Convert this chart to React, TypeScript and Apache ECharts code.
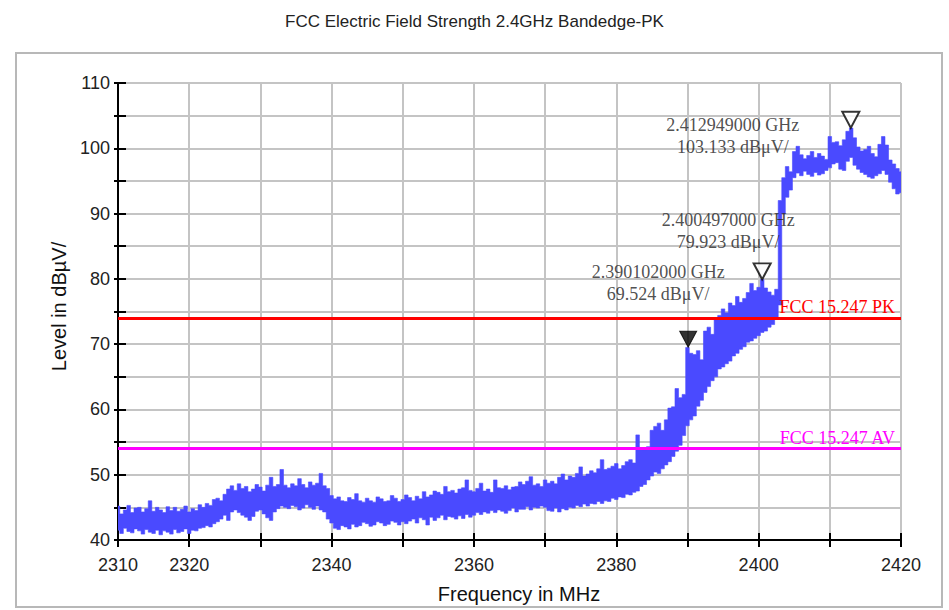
import React, { useEffect, useRef } from "react";
import * as echarts from "echarts";

const TITLE = "FCC Electric Field Strength 2.4GHz Bandedge-PK";
const X_NAME = "Frequency in MHz";
const Y_NAME = "Level in dBµV/";

const X_TICK_LABELS = [2310, 2320, 2340, 2360, 2380, 2400, 2420];
const Y_TICK_LABELS = [40, 50, 60, 70, 80, 90, 100, 110];

const FREQ_START = 2310;
const FREQ_STEP = 0.5;

// Upper edge of the trace, every 0.5 MHz from 2310 to 2420
const TRACE_HI = [
  45.2, 44.0, 44.6, 45.3, 44.2, 44.9, 45.0, 44.3, 44.8, 46.0,
  44.4, 45.0, 44.6, 44.2, 45.1, 44.5, 45.0, 44.4, 44.7, 45.2,
  44.3, 44.8, 44.5, 45.4, 45.0, 45.6, 45.3, 46.2, 46.4, 46.0,
  47.0, 47.8, 48.3, 47.6, 48.6, 47.9, 48.2, 47.4, 47.8, 48.5,
  48.1, 47.5, 48.4, 49.6, 48.2, 48.5, 50.8, 48.4, 48.0, 48.6,
  48.3, 49.4, 48.5, 48.0, 48.9, 48.4, 48.7, 50.2, 48.3, 47.9,
  46.8, 46.3, 46.6, 46.0, 45.9, 46.5, 46.2, 47.1, 46.0, 45.8,
  46.4, 46.0, 45.8, 46.6, 46.3, 45.9, 46.0, 46.8, 46.4, 45.9,
  46.2, 46.9, 46.5, 46.0, 46.7, 46.3, 47.4, 46.6, 46.9, 47.5,
  47.3, 47.0, 48.2, 47.4, 47.6, 47.2, 47.8, 48.0, 49.2, 47.6,
  47.4, 47.9, 48.7, 47.5, 47.8, 47.3, 49.2, 48.0, 47.9, 48.3,
  47.7, 48.1, 48.2, 48.9, 48.5, 49.0, 49.7, 48.4, 48.6, 48.2,
  49.2, 48.7, 49.0, 48.6, 49.6, 50.1, 49.2, 49.8, 49.6, 50.2,
  51.2, 49.8, 50.1, 50.6, 50.3, 50.9, 52.3, 50.8, 51.0, 51.3,
  51.7, 50.9, 51.4, 52.0, 52.3, 51.8, 56.1, 54.0, 53.8, 54.3,
  56.8, 57.4, 57.9, 56.8, 58.4, 60.2, 60.4, 63.2, 61.8, 62.3,
  69.5, 68.6, 68.4, 69.0, 67.6, 72.0, 72.6, 71.5, 73.7, 74.4,
  75.4, 74.8, 76.3, 75.9, 77.3, 76.4, 77.0, 77.9, 79.3, 78.2,
  78.7, 79.9, 78.6, 78.0, 77.5, 78.4, 92.0, 95.5, 97.2, 96.4,
  99.5, 100.3, 99.0, 98.4, 98.9, 99.5, 98.6, 99.2, 98.8, 98.3,
  101.8, 100.9, 101.0, 100.4, 101.3, 102.6, 103.1, 101.6, 100.2, 99.6,
  99.8, 100.3, 99.2, 98.7, 100.6, 101.8, 100.5, 98.2, 97.6, 96.9,
  96.4,
];

// Lower edge of the trace, same frequencies
const TRACE_LO = [
  41.5, 41.0, 41.8, 41.3, 41.1, 41.7, 41.4, 40.9, 41.6, 41.2,
  41.0, 41.5, 40.8, 41.4, 41.2, 40.9, 41.6, 41.1, 41.3, 41.7,
  41.0, 41.5, 41.4, 41.8, 41.9, 42.2, 42.0, 42.5, 42.8, 43.2,
  43.8, 43.0, 44.3, 44.6, 44.2, 43.8, 43.5, 43.0, 43.6, 44.4,
  44.6, 44.0, 43.4, 43.0, 44.3, 44.8, 45.2, 45.0, 44.8, 45.3,
  45.1, 44.6, 44.9, 45.4, 45.0, 44.7, 45.2, 44.6, 44.3, 43.2,
  42.6, 41.8, 41.6, 42.2, 42.0, 41.7, 42.4, 42.0, 42.2, 42.7,
  42.5, 42.1, 42.3, 42.8, 42.6, 42.2, 42.4, 42.9, 42.7, 42.3,
  42.8, 42.5, 42.9, 43.2, 42.6, 43.4, 43.1, 42.3, 43.5, 43.0,
  43.4, 43.8, 43.1, 43.6, 43.5, 43.2, 43.7, 43.3, 43.9, 43.5,
  43.8, 44.2, 43.9, 44.3, 44.1, 44.5, 44.2, 44.6, 44.4, 44.1,
  44.5, 44.9, 44.3, 44.7, 44.7, 45.1, 44.6, 45.0, 44.9, 45.2,
  45.0, 44.5, 44.4, 44.9, 44.3, 44.8, 44.6, 45.0, 44.9, 45.3,
  45.1, 45.5, 45.2, 45.6, 45.5, 45.9, 45.6, 46.0, 45.9, 46.4,
  46.2, 46.6, 46.5, 47.0, 46.9, 47.3, 47.5, 48.2, 48.5, 49.2,
  49.8, 50.4, 50.2, 50.9, 51.5, 52.0, 52.8, 53.6, 54.5, 56.0,
  57.5, 58.4, 59.0, 60.5, 61.4, 62.6, 63.5, 64.4, 65.0, 66.2,
  66.5, 67.0, 67.4, 68.2, 68.6, 69.2, 69.6, 70.3, 70.5, 70.9,
  71.3, 71.8, 72.0, 72.6, 73.0, 74.0, 76.0, 90.0, 92.5, 93.6,
  95.5, 96.2, 95.8, 96.5, 96.0, 95.7, 96.3, 95.9, 96.1, 96.6,
  97.0, 97.6, 97.8, 96.8, 96.6, 98.0, 98.6, 97.4, 96.8, 96.3,
  96.0, 95.6, 95.4, 95.8, 96.1, 96.6, 96.0, 94.8, 93.8, 93.0,
  93.2,
];

const MARKER_FREQ_GHZ = [2.390102, 2.400497, 2.412949];
const MARKER_LEVEL = [69.524, 79.923, 103.133];
const MARKER_FILLED = [true, false, false];

const LIMIT_NAMES = ["FCC 15.247 PK", "FCC 15.247 AV"];
const LIMIT_VALUES = [74, 54];
const LIMIT_COLORS = ["#ff0000", "#ff00ff"];

// label offsets (pixels) relative to each marker point
const MARKER_LABEL_OFFSETS = [
  [-30, -64],
  [-34, -48],
  [-118, 8],
];

export default function App() {
  const ref = useRef<HTMLDivElement>(null);

  useEffect(() => {
    if (!ref.current) return;
    const chart = echarts.init(ref.current, undefined, { renderer: "svg" });

    const freqs = TRACE_HI.map((_, i) => FREQ_START + i * FREQ_STEP);

    const markerPoints = MARKER_FREQ_GHZ.map((f, i) => ({
      value: [f * 1000, MARKER_LEVEL[i]],
      itemStyle: MARKER_FILLED[i]
        ? { color: "#000", borderColor: "#000", borderWidth: 1 }
        : { color: "#fff", borderColor: "#000", borderWidth: 2 },
    }));

    const markerLabels = MARKER_FREQ_GHZ.map((f, i) => ({
      value: [f * 1000, MARKER_LEVEL[i]],
      label: {
        offset: MARKER_LABEL_OFFSETS[i],
      },
    }));

    const xFmt = (v: number) =>
      X_TICK_LABELS.indexOf(Math.round(v)) >= 0 ? String(Math.round(v)) : "";
    const yFmt = (v: number) =>
      Y_TICK_LABELS.indexOf(Math.round(v)) >= 0 ? String(Math.round(v)) : "";

    const option: any = {
      animation: false,
      backgroundColor: "#fff",
      title: {
        text: TITLE,
        left: "center",
        top: 8,
        textStyle: {
          fontFamily: "Liberation Sans",
          fontSize: 17,
          fontWeight: "normal",
          color: "#222",
        },
      },
      graphic: [
        {
          type: "rect",
          shape: { x: 16, y: 53, width: 926, height: 554 },
          style: { fill: "none", stroke: "#b8b8b8", lineWidth: 2 },
          silent: true,
          z: -1,
        },
      ],
      grid: { left: 118, right: 48, top: 83, bottom: 70 },
      xAxis: [
        {
          type: "value",
          min: 2310,
          max: 2420,
          interval: 10,
          position: "bottom",
          name: X_NAME,
          nameLocation: "middle",
          nameGap: 44,
          nameTextStyle: {
            fontFamily: "Liberation Sans",
            fontSize: 20,
            color: "#111",
            padding: [0, 0, 0, 19],
          },
          axisLine: { show: true, onZero: false, lineStyle: { color: "#000", width: 2 } },
          axisTick: { show: true, length: 7, lineStyle: { color: "#000", width: 2 } },
          axisLabel: {
            formatter: xFmt,
            fontFamily: "Liberation Sans",
            fontSize: 18,
            color: "#222",
            margin: 16,
            showMinLabel: true,
            showMaxLabel: true,
          },
          splitLine: { show: true, lineStyle: { color: "#c4c4c4", width: 2 } },
        },
        {
          type: "value",
          min: 2310,
          max: 2420,
          interval: 10,
          position: "bottom",
          axisLine: { show: false },
          axisTick: { show: true, inside: true, length: 7, lineStyle: { color: "#000", width: 2 } },
          axisLabel: { show: false },
          splitLine: { show: false },
        },
      ],
      yAxis: [
        {
          type: "value",
          min: 40,
          max: 110,
          interval: 5,
          position: "left",
          name: Y_NAME,
          nameLocation: "middle",
          nameGap: 45,
          nameTextStyle: {
            fontFamily: "Liberation Sans",
            fontSize: 20,
            color: "#111",
            padding: [0, 0, 0, 10],
          },
          axisLine: { show: true, onZero: false, lineStyle: { color: "#000", width: 2 } },
          axisTick: { show: true, length: 4, lineStyle: { color: "#000", width: 2 } },
          axisLabel: {
            formatter: yFmt,
            fontFamily: "Liberation Sans",
            fontSize: 18,
            color: "#222",
            margin: 8,
          },
          splitLine: { show: true, lineStyle: { color: "#c4c4c4", width: 2 } },
        },
        {
          type: "value",
          min: 40,
          max: 110,
          interval: 5,
          position: "left",
          axisLine: { show: false },
          axisTick: { show: true, inside: true, length: 8, lineStyle: { color: "#000", width: 2 } },
          axisLabel: { show: false },
          splitLine: { show: false },
        },
      ],
      series: [
        {
          type: "custom",
          name: "trace",
          xAxisIndex: 0,
          yAxisIndex: 0,
          clip: true,
          silent: true,
          data: [[FREQ_START, TRACE_HI[0]]],
          renderItem: (params: any, api: any) => {
            const half = FREQ_STEP / 2;
            const upper: number[][] = [];
            const lower: number[][] = [];
            for (let i = 0; i < freqs.length; i++) {
              const f = freqs[i];
              upper.push(api.coord([f - half, TRACE_HI[i]]));
              upper.push(api.coord([f + half, TRACE_HI[i]]));
              lower.push(api.coord([f - half, TRACE_LO[i]]));
              lower.push(api.coord([f + half, TRACE_LO[i]]));
            }
            const points = upper.concat(lower.reverse());
            return {
              type: "polygon",
              shape: { points },
              style: { fill: "#4a4aff", stroke: "#4a4aff", lineWidth: 0.6 },
            };
          },
          z: 3,
        },
        {
          type: "line",
          name: "limits",
          data: [],
          xAxisIndex: 0,
          yAxisIndex: 0,
          markLine: {
            silent: true,
            symbol: "none",
            animation: false,
            data: LIMIT_VALUES.map((v, i) => ({
              yAxis: v,
              lineStyle: { color: LIMIT_COLORS[i], width: 3, type: "solid" },
              label: {
                show: true,
                position: "insideEndTop",
                formatter: LIMIT_NAMES[i],
                color: LIMIT_COLORS[i],
                fontFamily: "Liberation Serif",
                fontSize: 18,
                distance: [6, 2],
              },
            })),
          },
          z: 4,
        },
        {
          type: "scatter",
          name: "markers",
          data: markerPoints,
          symbol: "path://M0,0L20,0L10,19Z",
          symbolSize: [17, 16],
          symbolOffset: [0, -8],
          z: 6,
          silent: true,
        },
        {
          type: "scatter",
          name: "markerLabels",
          data: markerLabels,
          symbolSize: 1,
          itemStyle: { color: "rgba(0,0,0,0)" },
          silent: true,
          z: 7,
          label: {
            show: true,
            position: "inside",
            align: "center",
            verticalAlign: "middle",
            fontFamily: "Liberation Serif",
            fontSize: 18,
            lineHeight: 22,
            color: "#222",
            formatter: (p: any) => {
              const i = p.dataIndex;
              return (
                MARKER_FREQ_GHZ[i].toFixed(9) +
                " GHz\n" +
                MARKER_LEVEL[i].toFixed(3) +
                " dBμV/"
              );
            },
          },
        },
      ],
    };

    chart.setOption(option);
    return () => chart.dispose();
  }, []);

  return (
    <div
      ref={ref}
      style={{ position: "fixed", left: 0, top: 0, width: 949, height: 610 }}
    />
  );
}
